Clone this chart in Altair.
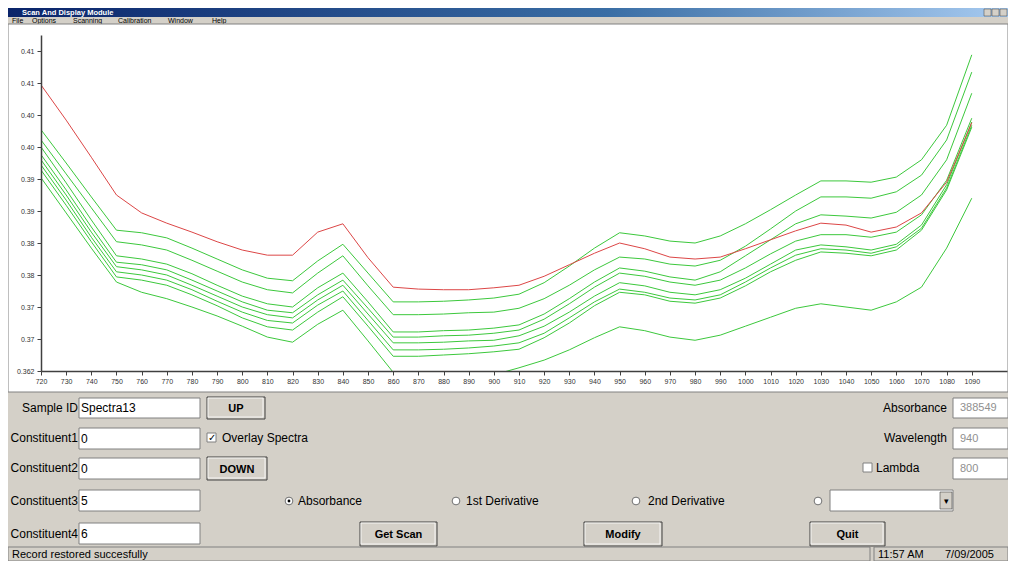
import altair as alt
import pandas as pd

# ---------------- data ----------------
WAVELENGTHS = [720, 730, 740, 750, 760, 770, 780, 790, 800, 810,
               820, 830, 840, 850, 860, 870, 880, 890, 900, 910,
               920, 930, 940, 950, 960, 970, 980, 990, 1000, 1010,
               1020, 1030, 1040, 1050, 1060, 1070, 1080, 1090]

SPECTRA13 = [0.4067, 0.4012, 0.3954, 0.3895, 0.3867, 0.3851, 0.3837, 0.3822, 0.3809, 0.3801,
             0.3801, 0.3837, 0.3850, 0.3797, 0.3751, 0.3748, 0.3747, 0.3747, 0.3750, 0.3754,
             0.3768, 0.3786, 0.3804, 0.3820, 0.3811, 0.3798, 0.3795, 0.3798, 0.3811, 0.3825,
             0.3839, 0.3851, 0.3848, 0.3837, 0.3845, 0.3867, 0.3915, 0.4008]

OVERLAY_1 = [0.3997, 0.3945, 0.3892, 0.3840, 0.3836, 0.3828, 0.3812, 0.3795, 0.3778, 0.3765,
             0.3761, 0.3792, 0.3818, 0.3773, 0.3728, 0.3728, 0.3729, 0.3731, 0.3734, 0.3740,
             0.3758, 0.3784, 0.3812, 0.3836, 0.3831, 0.3823, 0.3820, 0.3831, 0.3850, 0.3872,
             0.3895, 0.3917, 0.3917, 0.3915, 0.3923, 0.3950, 0.4004, 0.4114]
OVERLAY_2 = [0.3981, 0.3928, 0.3875, 0.3822, 0.3817, 0.3809, 0.3793, 0.3776, 0.3759, 0.3747,
             0.3742, 0.3773, 0.3800, 0.3753, 0.3708, 0.3708, 0.3709, 0.3711, 0.3712, 0.3718,
             0.3733, 0.3754, 0.3778, 0.3798, 0.3795, 0.3787, 0.3784, 0.3793, 0.3815, 0.3842,
             0.3870, 0.3892, 0.3892, 0.3890, 0.3900, 0.3926, 0.3981, 0.4087]
OVERLAY_3 = [0.3970, 0.3914, 0.3856, 0.3800, 0.3795, 0.3787, 0.3772, 0.3754, 0.3737, 0.3725,
             0.3720, 0.3750, 0.3773, 0.3728, 0.3681, 0.3681, 0.3683, 0.3684, 0.3687, 0.3692,
             0.3709, 0.3733, 0.3759, 0.3781, 0.3776, 0.3767, 0.3762, 0.3775, 0.3800, 0.3825,
             0.3850, 0.3864, 0.3862, 0.3859, 0.3868, 0.3895, 0.3950, 0.4054]
OVERLAY_4 = [0.3958, 0.3903, 0.3845, 0.3790, 0.3786, 0.3778, 0.3762, 0.3745, 0.3728, 0.3715,
             0.3711, 0.3739, 0.3762, 0.3718, 0.3673, 0.3673, 0.3675, 0.3676, 0.3679, 0.3684,
             0.3701, 0.3725, 0.3751, 0.3773, 0.3768, 0.3759, 0.3754, 0.3762, 0.3781, 0.3803,
             0.3823, 0.3833, 0.3833, 0.3829, 0.3837, 0.3864, 0.3918, 0.4015]
OVERLAY_5 = [0.3950, 0.3895, 0.3837, 0.3783, 0.3778, 0.3770, 0.3754, 0.3737, 0.3720, 0.3708,
             0.3703, 0.3731, 0.3754, 0.3709, 0.3664, 0.3664, 0.3665, 0.3667, 0.3668, 0.3675,
             0.3690, 0.3712, 0.3737, 0.3758, 0.3753, 0.3743, 0.3739, 0.3747, 0.3765, 0.3787,
             0.3809, 0.3817, 0.3814, 0.3809, 0.3818, 0.3848, 0.3911, 0.4009]
OVERLAY_6 = [0.3942, 0.3887, 0.3829, 0.3775, 0.3770, 0.3762, 0.3747, 0.3729, 0.3712, 0.3699,
             0.3695, 0.3723, 0.3745, 0.3699, 0.3653, 0.3653, 0.3654, 0.3656, 0.3659, 0.3664,
             0.3679, 0.3703, 0.3728, 0.3748, 0.3743, 0.3734, 0.3731, 0.3739, 0.3759, 0.3781,
             0.3801, 0.3811, 0.3809, 0.3804, 0.3814, 0.3843, 0.3906, 0.4004]
OVERLAY_7 = [0.3934, 0.3879, 0.3822, 0.3767, 0.3762, 0.3754, 0.3739, 0.3722, 0.3703, 0.3689,
             0.3684, 0.3712, 0.3736, 0.3690, 0.3643, 0.3643, 0.3645, 0.3647, 0.3650, 0.3654,
             0.3672, 0.3695, 0.3722, 0.3743, 0.3739, 0.3729, 0.3726, 0.3734, 0.3753, 0.3775,
             0.3793, 0.3806, 0.3804, 0.3800, 0.3809, 0.3840, 0.3903, 0.4001]
OVERLAY_8 = [0.3922, 0.3867, 0.3812, 0.3759, 0.3743, 0.3733, 0.3720, 0.3706, 0.3690, 0.3673,
             0.3665, 0.3693, 0.3715, 0.3667, 0.3618, 0.3614, 0.3612, 0.3612, 0.3614, 0.3625,
             0.3637, 0.3653, 0.3672, 0.3689, 0.3683, 0.3673, 0.3668, 0.3676, 0.3690, 0.3704,
             0.3718, 0.3725, 0.3720, 0.3715, 0.3728, 0.3751, 0.3812, 0.3890]

Y_TICKS = [0.362, 0.367, 0.372, 0.377, 0.382, 0.387, 0.392, 0.397, 0.402, 0.407, 0.412]
X_TICKS = WAVELENGTHS

OVERLAYS = {"Overlay 1": OVERLAY_1, "Overlay 2": OVERLAY_2, "Overlay 3": OVERLAY_3,
            "Overlay 4": OVERLAY_4, "Overlay 5": OVERLAY_5, "Overlay 6": OVERLAY_6,
            "Overlay 7": OVERLAY_7, "Overlay 8": OVERLAY_8}

rows = []
for name, vals in OVERLAYS.items():
    for w, v in zip(WAVELENGTHS, vals):
        rows.append({"series": name, "wavelength": w, "absorbance": v})
overlay_df = pd.DataFrame(rows)
current_df = pd.DataFrame({"series": "Spectra13", "wavelength": WAVELENGTHS,
                           "absorbance": SPECTRA13})

# ---------------- styling ----------------
FONT = "Liberation Sans"
GRAY = "#D4D0C8"
DARK = "#404040"
OX, OY = 41, 35          # page position of the plot origin

ONE = pd.DataFrame({"k": [0]})


def rect(x1, y1, x2, y2, fill, stroke=None, sw=1.0):
    kw = dict(fill=fill)
    if stroke is not None:
        kw.update(stroke=stroke, strokeWidth=sw)
    else:
        kw.update(strokeWidth=0)
    return alt.Chart(ONE).mark_rect(**kw).encode(
        x=alt.value(x1 - OX), x2=alt.value(x2 - OX),
        y=alt.value(y1 - OY), y2=alt.value(y2 - OY))


def text(s, x, y, size=12, align="left", color="#000000", weight="normal"):
    return alt.Chart(ONE).mark_text(
        align=align, baseline="middle", fontSize=size, color=color,
        fontWeight=weight, font=FONT).encode(
        x=alt.value(x - OX), y=alt.value(y - OY), text=alt.value(s))


def field(x1, y1, x2, y2):
    return rect(x1, y1, x2, y2, "#FFFFFF", "#808080", 1)


def button(x1, y1, x2, y2, label):
    return [rect(x1, y1, x2, y2, GRAY, DARK, 1),
            rect(x1 + 1, y1 + 1, x2 - 2, y2 - 2, GRAY, "#FFFFFF", 0.8),
            text(label, (x1 + x2) / 2, (y1 + y2) / 2 + 1, 11, "center", "#000000", "bold")]


def radio(x, y, selected=False):
    out = [alt.Chart(ONE).mark_point(shape="circle", filled=True, fill="#FFFFFF",
                                     stroke="#707070", strokeWidth=1, size=60, opacity=1)
           .encode(x=alt.value(x - OX), y=alt.value(y - OY))]
    if selected:
        out.append(alt.Chart(ONE).mark_point(shape="circle", filled=True, fill="#000000",
                                             size=8, opacity=1)
                   .encode(x=alt.value(x - OX), y=alt.value(y - OY)))
    return out


# ---------------- window chrome ----------------
title_grad = alt.LinearGradient(
    gradient="linear", x1=0, x2=1, y1=0, y2=0,
    stops=[alt.GradientStop(color="#0A246A", offset=0),
           alt.GradientStop(color="#3A6EA5", offset=0.6),
           alt.GradientStop(color="#A6CAF0", offset=1)])
chrome = [
    alt.Chart(ONE).mark_rect(color=title_grad).encode(
        x=alt.value(8 - OX), x2=alt.value(1008 - OX),
        y=alt.value(8 - OY), y2=alt.value(17 - OY)),
    text("Scan And Display Module", 22, 12.5, 7.5, color="#FFFFFF", weight="bold"),
    rect(984, 9, 991, 16, GRAY, DARK, 0.5),
    rect(992, 9, 999, 16, GRAY, DARK, 0.5),
    rect(1000, 9, 1007, 16, GRAY, DARK, 0.5),
    text("File", 12, 20.5, 7), text("Options", 32, 20.5, 7), text("Scanning", 73, 20.5, 7),
    text("Calibration", 118, 20.5, 7), text("Window", 168, 20.5, 7), text("Help", 212, 20.5, 7),
    rect(8, 24, 1008, 392, "#FFFFFF", "#808080", 1),
]

# ---------------- spectra ----------------
x_enc = alt.X("wavelength:Q",
              scale=alt.Scale(domain=[720, 1104], nice=False, zero=False),
              axis=alt.Axis(values=X_TICKS, title=None, grid=False, format="d",
                            labelFontSize=7, labelFont=FONT, labelColor="#333333",
                            labelPadding=2, tickSize=4, tickColor=DARK,
                            domainColor=DARK, domainWidth=1.5, labelOverlap=False,
                            labelFlush=False, zindex=1))
y_enc = alt.Y("absorbance:Q",
              scale=alt.Scale(domain=[0.362, 0.4145], nice=False, zero=False),
              axis=alt.Axis(values=Y_TICKS, title=None, grid=False,
                            labelExpr="datum.value < 0.3625 ? '0.362' : format(datum.value, '.2f')",
                            labelFontSize=7, labelFont=FONT, labelColor="#333333",
                            labelPadding=3, tickSize=4, tickColor=DARK,
                            domainColor=DARK, domainWidth=1.5, zindex=1))

green_lines = alt.Chart(overlay_df).mark_line(strokeWidth=1, clip=True, color="#3CC83C").encode(
    x=x_enc, y=y_enc, detail="series:N")
red_line = alt.Chart(current_df).mark_line(strokeWidth=1, clip=True, color="#DC4646").encode(
    x=x_enc, y=y_enc)

# ---------------- form controls ----------------
controls = []
for label, y in [("Sample ID", 408), ("Constituent1", 438), ("Constituent2", 468),
                 ("Constituent3", 501), ("Constituent4", 534)]:
    controls.append(text(label, 78, y, 12, "right"))
for val, (y1, y2) in zip(["Spectra13", "0", "0", "5", "6"],
                         [(398, 418), (428, 449), (458, 479), (490, 511), (523, 544)]):
    controls.append(field(79, y1, 200, y2))
    controls.append(text(val, 81, (y1 + y2) / 2, 12))

controls += button(207, 397, 265, 419, "UP")
controls += button(207, 457, 267, 480, "DOWN")
controls.append(field(207, 433, 216, 442))
controls.append(text("\u2713", 211.5, 438, 10, "center"))
controls.append(text("Overlay Spectra", 222, 438, 12))

for label, y in [("Absorbance", 408), ("Wavelength", 438)]:
    controls.append(text(label, 947, y, 12, "right"))
controls.append(field(863, 463, 872, 472))
controls.append(text("Lambda", 876, 468, 12))
for val, (y1, y2) in zip(["388549", "940", "800"], [(398, 418), (428, 449), (458, 479)]):
    controls.append(field(953, y1, 1008, y2))
    controls.append(text(val, 960, (y1 + y2) / 2, 11, color="#909090"))

controls += radio(289, 501, True)
controls.append(text("Absorbance", 298, 501, 12))
controls += radio(456, 501)
controls.append(text("1st Derivative", 466, 501, 12))
controls += radio(636, 501)
controls.append(text("2nd Derivative", 648, 501, 12))
controls += radio(818, 501)
controls.append(field(830, 490, 953, 511))
controls.append(rect(940, 492, 952, 509, GRAY, DARK, 0.6))
controls.append(text("\u25BE", 946, 500.5, 9, "center"))

controls += button(360, 522, 437, 546, "Get Scan")
controls += button(584, 522, 662, 546, "Modify")
controls += button(810, 522, 885, 546, "Quit")

controls.append(rect(8, 547, 870, 561, GRAY, "#808080", 1))
controls.append(rect(874, 547, 1008, 561, GRAY, "#808080", 1))
controls.append(text("Record restored succesfully", 12, 554.5, 11))
controls.append(text("11:57 AM", 878, 554.5, 11))
controls.append(text("7/09/2005", 945, 554.5, 11))

chart = alt.layer(*chrome, green_lines, red_line, *controls).properties(
    width=966, height=336,
    autosize=alt.AutoSizeParams(type="none"),
    padding={"left": 33, "top": 27, "right": 1, "bottom": 190},
    background=GRAY,
).configure_view(strokeWidth=0)

chart.save("out.html", embed_options={"renderer": "svg", "actions": False})
